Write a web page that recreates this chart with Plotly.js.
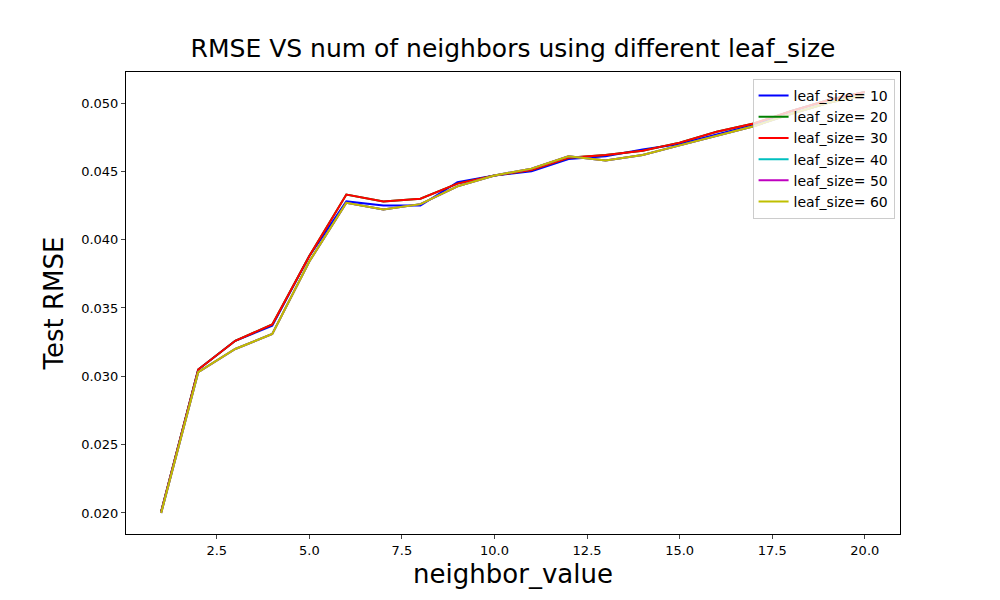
<!DOCTYPE html>
<html><head><script src="https://cdn.plot.ly/plotly-3.0.1.min.js"></script>
<style>body{margin:0}</style></head><body><div id="c" style="width:1000px;height:600px"></div>
<script>
const x = [1,2,3,4,5,6,7,8,9,10,11,12,13,14,15,16,17,18,19,20];
const leaf10 = [0.0201,0.0305,0.0326,0.0337,0.0388,0.0428,0.0425,0.0425,0.0442,0.0447,0.0450,0.0459,0.0461,0.0466,0.0470,0.0477,0.0484,0.0494,0.0502,0.0508];
const leaf20 = [0.0201,0.0305,0.0326,0.0338,0.0388,0.0433,0.0428,0.0430,0.0441,0.0447,0.0451,0.0460,0.0462,0.0465,0.0471,0.0479,0.0485,0.0494,0.0502,0.0508];
const leaf30 = [0.0201,0.0305,0.0326,0.0338,0.0388,0.0433,0.0428,0.0430,0.0441,0.0447,0.0451,0.0460,0.0462,0.0465,0.0471,0.0479,0.0485,0.0494,0.0502,0.0508];
const leaf40 = [0.0200,0.0303,0.0320,0.0331,0.0384,0.0427,0.0422,0.0426,0.0439,0.0447,0.0452,0.0461,0.0458,0.0462,0.0469,0.0476,0.0483,0.0492,0.0500,0.0506];
const leaf50 = leaf40.slice();
const leaf60 = leaf40.slice();
const names = ['leaf_size= 10','leaf_size= 20','leaf_size= 30','leaf_size= 40','leaf_size= 50','leaf_size= 60'];
const series = [leaf10,leaf20,leaf30,leaf40,leaf50,leaf60];
const colors = ['#0000ff','#008000','#ff0000','#00bfbf','#bf00bf','#bfbf00'];
const data = series.map((s,i)=>({x:x,y:s,type:'scatter',mode:'lines',name:names[i],line:{color:colors[i],width:2}}));
Plotly.newPlot('c',data,{
  width:1000,height:600,paper_bgcolor:'#fff',plot_bgcolor:'#fff',
  font:{family:'DejaVu Sans',color:'#000'},
  margin:{l:126,r:100,t:72,b:66},
  title:{text:'RMSE VS num of neighbors using different leaf_size',font:{size:25},x:0.513,xanchor:'center',y:0.935,yanchor:'top'},
  xaxis:{range:[0.05,20.95],tickvals:[2.5,5,7.5,10,12.5,15,17.5,20],ticktext:['2.5','5.0','7.5','10.0','12.5','15.0','17.5','20.0'],ticks:'outside',ticklen:4,showgrid:false,zeroline:false,showline:true,mirror:true,linecolor:'#000',tickfont:{size:13},title:{text:'neighbor_value',font:{size:26},standoff:8}},
  yaxis:{range:[0.01846,0.05227],tickvals:[0.02,0.025,0.03,0.035,0.04,0.045,0.05],ticktext:['0.020','0.025','0.030','0.035','0.040','0.045','0.050'],ticks:'outside',ticklen:4,showgrid:false,zeroline:false,showline:true,mirror:true,linecolor:'#000',tickfont:{size:13},title:{text:'Test RMSE',font:{size:26},standoff:10}},
  legend:{x:0.993,xanchor:'right',y:0.985,yanchor:'top',bgcolor:'rgba(255,255,255,0.8)',bordercolor:'#ccc',borderwidth:1,font:{size:14},tracegroupgap:0}
},{displayModeBar:false});
</script></body></html>
